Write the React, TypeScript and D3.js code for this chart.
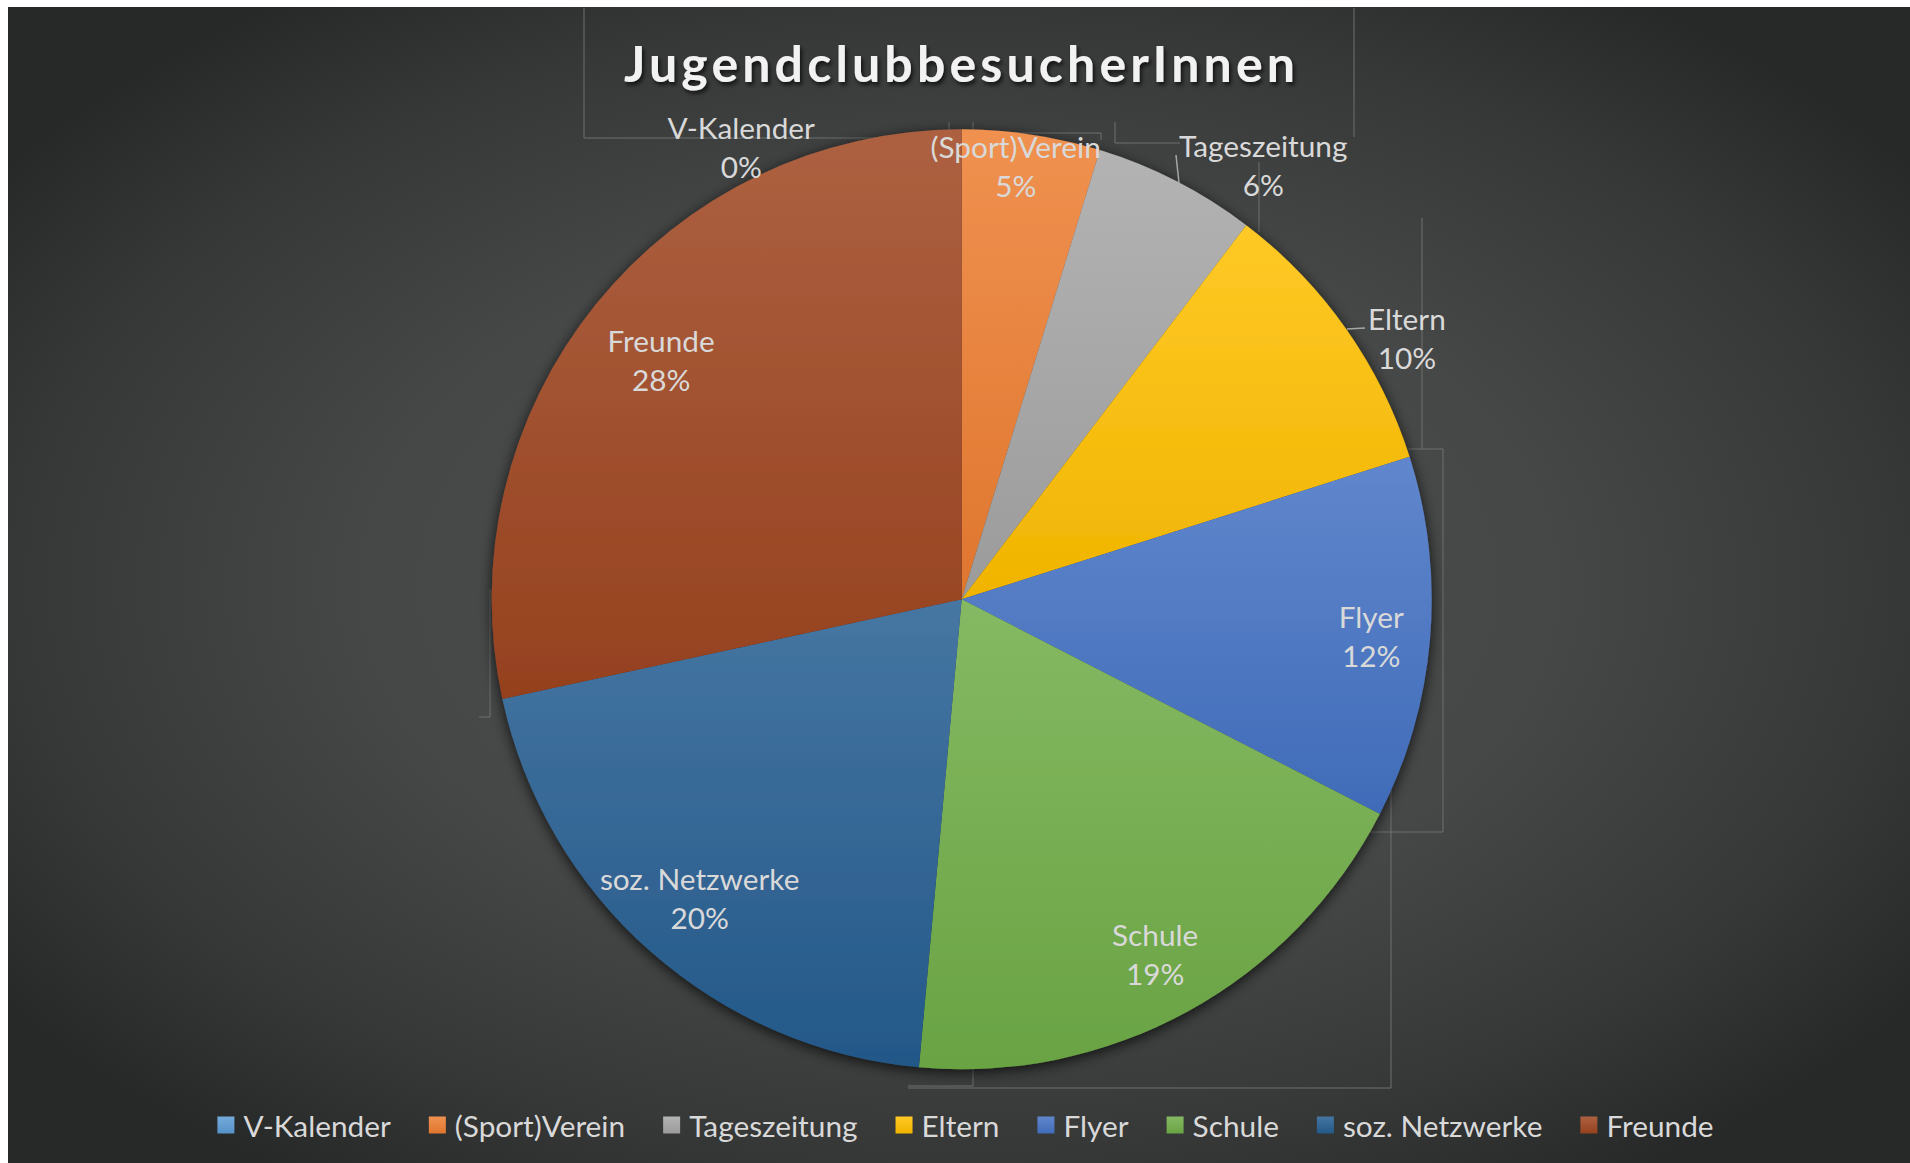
import React, { useEffect, useRef } from "react";
import * as d3 from "d3";

const categories = ["V-Kalender", "(Sport)Verein", "Tageszeitung", "Eltern", "Flyer", "Schule", "soz. Netzwerke", "Freunde"];
const shares = [0, 4.75, 5.6, 9.75, 12.45, 18.9, 20.15, 28.4];
const baseColors = ["#5B9BD5", "#ED7D31", "#A5A5A5", "#FFC000", "#4472C4", "#70AD47", "#255E91", "#9E4520"];
const titleText = "JugendclubbesucherInnen";

// label layout (radius factor relative to pie radius, angle shift in degrees from slice middle)
const labelRadius = [1.07, 0.93, 1.125, 1.098, 0.875, 0.86, 0.845, 0.817];
const labelAngleShift = [-26, -1.45, 7.6, 4.8, 0.4, 0.2, -0.2, -0.4];

// decorative leftover label boxes / leader lines of the original chart
const guideLines: [number, number][][] = [
  [[584, 8], [584, 138], [949, 138]],
  [[949, 122], [949, 138]],
  [[973, 122], [973, 133], [1101, 133], [1101, 140]],
  [[1115, 122], [1115, 143], [1180, 143]],
  [[1354, 8], [1354, 137]],
  [[1259, 162], [1259, 232]],
  [[1422, 218], [1422, 449]],
  [[1408, 449], [1443, 449], [1443, 832], [1369, 832]],
  [[1391, 790], [1391, 1088], [908, 1088]],
  [[973, 1066], [973, 1086], [908, 1086]],
  [[490, 590], [490, 717], [479, 717]],
];
const leaderLines: [number, number][][] = [
  [[1176, 155], [1179, 183]],
  [[1347, 329], [1365, 328]],
];

const W = 1910;
const H = 1163;
const FONT = "Lato, 'Open Sans', sans-serif";
const FS = 29.8;

export default function App() {
  const ref = useRef<SVGSVGElement>(null);

  useEffect(() => {
    const svg = d3.select(ref.current);
    svg.selectAll("*").remove();
    const defs = svg.append("defs");

    const bg = defs.append("radialGradient").attr("id", "bg").attr("cx", "0.5").attr("cy", "0.5").attr("r", "0.62");
    [[0, "#4c4d4d"], [0.5, "#464747"], [0.8, "#363737"], [1, "#272828"]].forEach(([o, c]) =>
      bg.append("stop").attr("offset", o as number).attr("stop-color", c as string));

    baseColors.forEach((c, i) => {
      const g = defs.append("linearGradient").attr("id", "g" + i).attr("x1", 0).attr("y1", 0).attr("x2", 0).attr("y2", 1);
      g.append("stop").attr("offset", 0).attr("stop-color", d3.interpolateRgb(c, "#ffffff")(0.15));
      g.append("stop").attr("offset", 1).attr("stop-color", d3.interpolateRgb(c, "#000000")(0.06));
    });

    const sh = defs.append("filter").attr("id", "pieShadow").attr("x", "-20%").attr("y", "-20%").attr("width", "140%").attr("height", "140%");
    sh.append("feDropShadow").attr("dx", 0).attr("dy", 3).attr("stdDeviation", 7).attr("flood-color", "#000").attr("flood-opacity", 0.75);
    const ts = defs.append("filter").attr("id", "titleShadow").attr("x", "-10%").attr("y", "-30%").attr("width", "120%").attr("height", "160%");
    ts.append("feDropShadow").attr("dx", 2).attr("dy", 3).attr("stdDeviation", 2).attr("flood-color", "#000").attr("flood-opacity", 0.7);

    svg.append("rect").attr("x", 8).attr("y", 7).attr("width", W - 8).attr("height", H - 7).attr("fill", "url(#bg)");

    const line = d3.line();
    svg.append("g").selectAll("path").data(guideLines).join("path")
      .attr("d", (d) => line(d)).attr("fill", "none").attr("stroke", "#6f7070").attr("stroke-width", 1);

    // title
    svg.append("text").attr("x", 959.5).attr("y", 82).attr("text-anchor", "middle")
      .attr("font-family", FONT).attr("font-weight", 700).attr("font-size", 50)
      .attr("fill", "#f2f2f2").attr("filter", "url(#titleShadow)")
      .attr("textLength", 671).attr("lengthAdjust", "spacing")
      .text(titleText);

    const cx = 961.7, cy = 599.3, R = 470;
    const total = d3.sum(shares);
    const pie = d3.pie<number>().sort(null).value((d) => d)(shares);
    const arc = d3.arc<d3.PieArcDatum<number>>().innerRadius(0).outerRadius(R);

    const pg = svg.append("g").attr("transform", `translate(${cx},${cy})`).attr("filter", "url(#pieShadow)");
    pg.selectAll("path").data(pie.filter((d) => d.value > 0)).join("path")
      .attr("d", (d) => arc(d) as string)
      .attr("fill", (d) => `url(#g${d.index})`);

    svg.append("g").selectAll("path").data(leaderLines).join("path")
      .attr("d", (d) => line(d)).attr("fill", "none").attr("stroke", "#a6a6a6").attr("stroke-width", 1.5);

    // data labels
    const lg = svg.append("g").attr("font-family", FONT).attr("font-size", FS).attr("fill", "#d9d9d9").attr("text-anchor", "middle");
    pie.forEach((d, i) => {
      const a = (d.startAngle + d.endAngle) / 2 + (labelAngleShift[i] * Math.PI) / 180;
      const r = labelRadius[i] * R;
      const x = cx + r * Math.sin(a);
      const y = cy - r * Math.cos(a);
      lg.append("text").attr("x", x).attr("y", y - 19.5).attr("dominant-baseline", "central").text(categories[i]);
      lg.append("text").attr("x", x).attr("y", y + 19.5).attr("dominant-baseline", "central")
        .text(Math.round((d.value / total) * 100) + "%");
    });

    // legend
    const leg = svg.append("g").attr("font-family", FONT).attr("font-size", FS).attr("fill", "#d9d9d9");
    const sq = 17, gapT = 9, gapI = 38;
    const items = categories.map((c, i) => {
      const g = leg.append("g");
      g.append("rect").attr("width", sq).attr("height", sq).attr("y", -sq / 2).attr("fill", `url(#g${i})`);
      const t = g.append("text").attr("x", sq + gapT).attr("y", 0).attr("dominant-baseline", "central").text(c);
      const w = (t.node() as SVGTextElement).getComputedTextLength();
      return { g, w: sq + gapT + w };
    });
    const totalW = d3.sum(items, (d) => d.w) + gapI * (items.length - 1);
    let x0 = 965.5 - totalW / 2;
    items.forEach((it) => {
      it.g.attr("transform", `translate(${x0},${1125})`);
      x0 += it.w + gapI;
    });
  }, []);

  return (
    <div style={{ position: "fixed", left: 0, top: 0, width: W, height: H, background: "#fff" }}>
      <svg ref={ref} width={W} height={H} style={{ display: "block" }} />
    </div>
  );
}
